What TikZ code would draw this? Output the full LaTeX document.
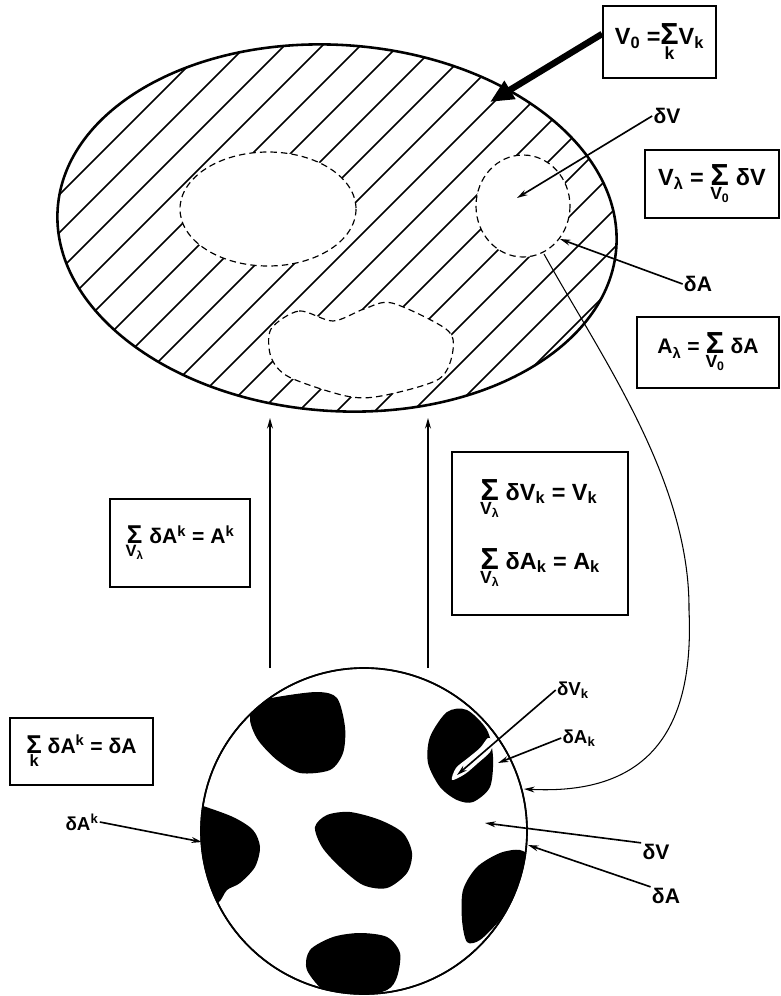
\documentclass[tikz,border=0pt]{standalone}
\usepackage{fontspec}
\setmainfont{Liberation Sans}
\usetikzlibrary{arrows.meta}

\newcommand{\sumbig}[1]{\ensuremath{\mathop{\hbox{\fontsize{26}{26}\selectfont Σ}}\limits_{\hbox{\fontsize{15}{15}\selectfont #1}}}}
\newcommand{\sumsmall}[1]{\ensuremath{\mathop{\hbox{\fontsize{22}{22}\selectfont Σ}}\limits_{\hbox{\fontsize{14}{14}\selectfont #1}}}}

\begin{document}
\begin{tikzpicture}[x=0.03cm, y=-0.03cm, >=Stealth,
    box/.style={draw, line width=1.5pt, inner sep=2pt, font=\fontsize{20}{24}\selectfont\bfseries},
    smallbox/.style={box, font=\fontsize{18}{21}\selectfont\bfseries},
    lbl/.style={inner sep=1pt, font=\fontsize{18}{20}\selectfont\bfseries},
    ptr/.style={line width=1.4pt, -{Stealth[length=9pt, width=5pt]}},
    hole/.style={draw, fill=white, dash pattern=on 5.5pt off 3.5pt, line width=1pt}]
  \useasboundingbox (0,0) rectangle (781,996);

  % hatched region with holes
  \begin{scope}
    \clip[rotate around={-4:(337,228)}] (337,228) ellipse [x radius=280, y radius=183];
    \foreach \c in {-330,-292,...,520}
      \draw[line width=1.4pt] (\c,470) -- ++(470,-470);
  \end{scope}
  \draw[line width=2.2pt, rotate around={-4:(337,228)}] (337,228) ellipse [x radius=280, y radius=183];
  \draw[hole] (268,209) ellipse [x radius=88, y radius=57];
  \draw[hole] (523,206) ellipse [x radius=47, y radius=51];
  \draw[hole] plot[smooth cycle] coordinates {(271,329) (299,311) (333,321) (364,309) (392,303)
    (446,329) (453,350) (439,379) (381,396) (346,396) (289,377) (271,357)};

  % boxes
  \node[box, minimum width=3.39cm, minimum height=2.16cm] (v0) at (659.5,42)
    {V\textsubscript{0} =\sumbig{k}V\textsubscript{k}};
  \node[box, minimum width=4.02cm, minimum height=2.04cm] (vlam) at (712,184)
    {V\textsubscript{λ} = \sumbig{V\textsubscript{0}} δV};
  \node[box, font=\fontsize{18}{22}\selectfont\bfseries, minimum width=4.26cm, minimum height=2.13cm] (alam) at (708,352.5)
    {A\textsubscript{λ} = \sumbig{V\textsubscript{0}} δA};
  \node[box, align=left, minimum width=5.28cm, minimum height=4.89cm] (sumk) at (540,533.5)
    {\sumbig{V\textsubscript{λ}} δV\textsubscript{k} = V\textsubscript{k}\\[24pt]
     \sumbig{V\textsubscript{λ}} δA\textsubscript{k} = A\textsubscript{k}};
  \node[smallbox, minimum width=4.2cm, minimum height=2.64cm] (suml) at (180,543)
    {\sumsmall{V\textsubscript{λ}} δA\textsuperscript{k} = A\textsuperscript{k}};
  \node[smallbox, minimum width=4.29cm, minimum height=2.01cm] (sumak) at (81.5,751.5)
    {\sumsmall{k} δA\textsuperscript{k} = δA};

  % pointers at the top
  \coordinate (bigtip) at (490,102);
  \draw[line width=5.5pt, -{Triangle[length=20pt, width=17pt]}] (v0.172) -- (bigtip);
  \node[lbl] (dv) at (667,116) {δV};
  \coordinate (dvtip) at (517,198);
  \draw[ptr] (dv.west) -- (dvtip);
  \node[lbl] (da) at (698,284) {δA};
  \coordinate (datip) at (560,239);
  \draw[ptr] (da.west) -- (datip);

  % vertical arrows
  \coordinate (l0) at (270,668);
  \coordinate (l1) at (270,418);
  \coordinate (r0) at (428,668);
  \coordinate (r1) at (428,418);
  \draw[ptr] (l0) -- (l1);
  \draw[ptr] (r0) -- (r1);

  % the small sphere
  \node[circle, draw, line width=1.4pt, minimum size=9.78cm, inner sep=0pt] (sph) at (364,831) {};
  \begin{scope}
    \clip (sph.center) circle [radius=163];
    \fill plot[smooth cycle] coordinates {(250,720) (255,703) (277,697) (317,692) (337,698)
      (345,727) (343,753) (330,770) (300,773) (277,760) (258,740)};
    \fill plot[smooth cycle] coordinates {(447,712) (467,710) (487,730) (493,757) (490,787)
      (473,802) (457,800) (440,787) (428,763) (430,737)};
    \fill plot[smooth cycle] coordinates {(180,800) (200,805) (233,817) (253,830) (260,847)
      (255,867) (240,883) (227,890) (218,903) (200,907) (180,905)};
    \fill plot[smooth cycle] coordinates {(315,827) (327,815) (350,812) (380,820) (403,833)
      (412,853) (407,873) (387,888) (363,885) (340,867) (322,847)};
    \fill plot[smooth cycle] coordinates {(500,853) (520,850) (530,860) (520,893) (500,920)
      (480,940) (467,942) (462,920) (463,890) (477,867)};
    \fill plot[smooth cycle] coordinates {(310,950) (333,937) (360,933) (387,937) (400,953)
      (397,977) (387,990) (357,997) (327,993) (307,970)};
    \fill[white] plot[smooth cycle] coordinates {(452,780) (456,768) (468,758) (480,748)
      (488,738) (493,742) (490,752) (478,763) (465,774)};
  \end{scope}
  \draw[line width=1.4pt] (sph.center) circle [radius=163];

  % pointers at the sphere
  \node[lbl, font=\fontsize{16}{18}\selectfont\bfseries] (dvk) at (573,690) {δV\textsubscript{k}};
  \coordinate (dvktip) at (457,775);
  \draw[ptr] (dvk.west) -- (dvktip);
  \node[lbl, font=\fontsize{16}{18}\selectfont\bfseries] (dak) at (579,738) {δA\textsubscript{k}};
  \coordinate (daktip) at (498,763);
  \draw[ptr] (dak.west) -- (daktip);
  \node[lbl] (dvs) at (656,852) {δV};
  \coordinate (dvstip) at (485,823);
  \draw[ptr] (dvs.north west) -- (dvstip);
  \node[lbl] (das) at (666,896) {δA};
  \coordinate (dastip) at (528,845);
  \draw[ptr] (das.north west) -- (dastip);
  \node[lbl, font=\fontsize{16}{18}\selectfont\bfseries] (dak2) at (82,822) {δA\textsuperscript{k}};
  \coordinate (dak2tip) at (202,842);
  \draw[ptr] (dak2.east) -- (dak2tip);

  % link from the small hole to the sphere
  \coordinate (cstart) at (544,254);
  \coordinate (ctip) at (524,789);
  \draw[line width=0.9pt, -{Stealth[length=9pt, width=5pt]}] (cstart)
    .. controls (600,355) and (690,480) .. (689,610)
    .. controls (695,740) and (640,795) .. (ctip);
\end{tikzpicture}
\end{document}
